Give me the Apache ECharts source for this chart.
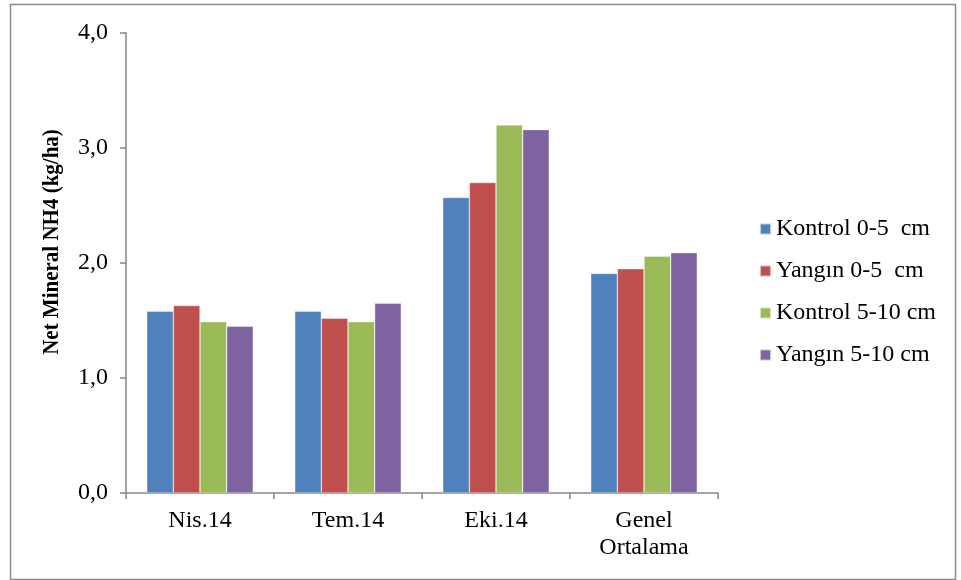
<!DOCTYPE html>
<html>
<head>
<meta charset="utf-8">
<script src="https://cdn.jsdelivr.net/npm/echarts@6/dist/echarts.min.js"></script>
<style>
  html, body { margin: 0; padding: 0; background: #fff; }
  #chart { width: 961px; height: 580px; }
</style>
</head>
<body>
<div id="chart"></div>
<script>
// Sampling dates plus the overall mean
const categories = ['Nis.14', 'Tem.14', 'Eki.14', 'Genel\nOrtalama'];
const seriesNames = ['Kontrol 0-5  cm', 'Yangın 0-5  cm', 'Kontrol 5-10 cm', 'Yangın 5-10 cm'];
// Net mineral NH4 (kg/ha) per treatment and depth
const kontrol0_5 = [1.58, 1.58, 2.57, 1.91];
const yangin0_5 = [1.63, 1.52, 2.70, 1.95];
const kontrol5_10 = [1.49, 1.49, 3.20, 2.06];
const yangin5_10 = [1.45, 1.65, 3.16, 2.09];
const yTicks = [0, 1, 2, 3, 4];
const yTitle = 'Net Mineral NH4 (kg/ha)';
const colors = ['#4f81bd', '#c0504d', '#9bbb59', '#8064a2'];

const values = [kontrol0_5, yangin0_5, kontrol5_10, yangin5_10];
const serif = '"Liberation Serif", "Times New Roman", serif';
const axisGray = '#868686';

const chart = echarts.init(document.getElementById('chart'), null, { renderer: 'canvas' });
chart.setOption({
  animation: false,
  backgroundColor: '#ffffff',
  color: colors,
  textStyle: { fontFamily: serif, color: '#000' },
  graphic: [
    {
      // outer chart frame
      type: 'rect',
      left: 8, top: 2,
      shape: { width: 945, height: 575 },
      style: { fill: 'none', stroke: '#8c8c8c', lineWidth: 1.5 },
      silent: true
    },
    {
      // vertical axis title, reading bottom to top
      type: 'text',
      x: 52, y: 242,
      rotation: Math.PI / 2,
      scaleY: 1.14,
      style: {
        text: yTitle,
        font: 'bold 21px ' + serif,
        fill: '#000',
        align: 'center',
        verticalAlign: 'middle'
      },
      silent: true
    }
  ],
  grid: { left: 126, right: 243, top: 33, bottom: 87, containLabel: false },
  legend: {
    orient: 'vertical',
    left: 754,
    top: 212,
    itemWidth: 11,
    itemHeight: 11,
    itemGap: 18,
    icon: 'rect',
    data: seriesNames,
    textStyle: { fontFamily: serif, fontSize: 24, color: '#000' }
  },
  xAxis: {
    type: 'category',
    data: categories,
    axisLine: { lineStyle: { color: axisGray, width: 1.5 } },
    axisTick: { show: true, length: 6, lineStyle: { color: axisGray, width: 1.5 } },
    axisLabel: { fontFamily: serif, fontSize: 24, color: '#000', margin: 14, lineHeight: 27 }
  },
  yAxis: {
    type: 'value',
    min: yTicks[0],
    max: yTicks[yTicks.length - 1],
    interval: 1,
    axisLine: { show: true, lineStyle: { color: axisGray, width: 1.5 } },
    axisTick: { show: true, length: 6, lineStyle: { color: axisGray, width: 1.5 } },
    splitLine: { show: false },
    axisLabel: {
      fontFamily: serif, fontSize: 24, color: '#000', margin: 18,
      formatter: v => v.toFixed(1).replace('.', ',')
    }
  },
  series: seriesNames.map((name, i) => ({
    name: name,
    type: 'bar',
    data: values[i],
    barGap: '0%',
    barCategoryGap: '28%',
    itemStyle: { color: colors[i], borderColor: 'rgba(255,255,255,0.6)', borderWidth: 0.6 }
  }))
});
</script>
</body>
</html>
